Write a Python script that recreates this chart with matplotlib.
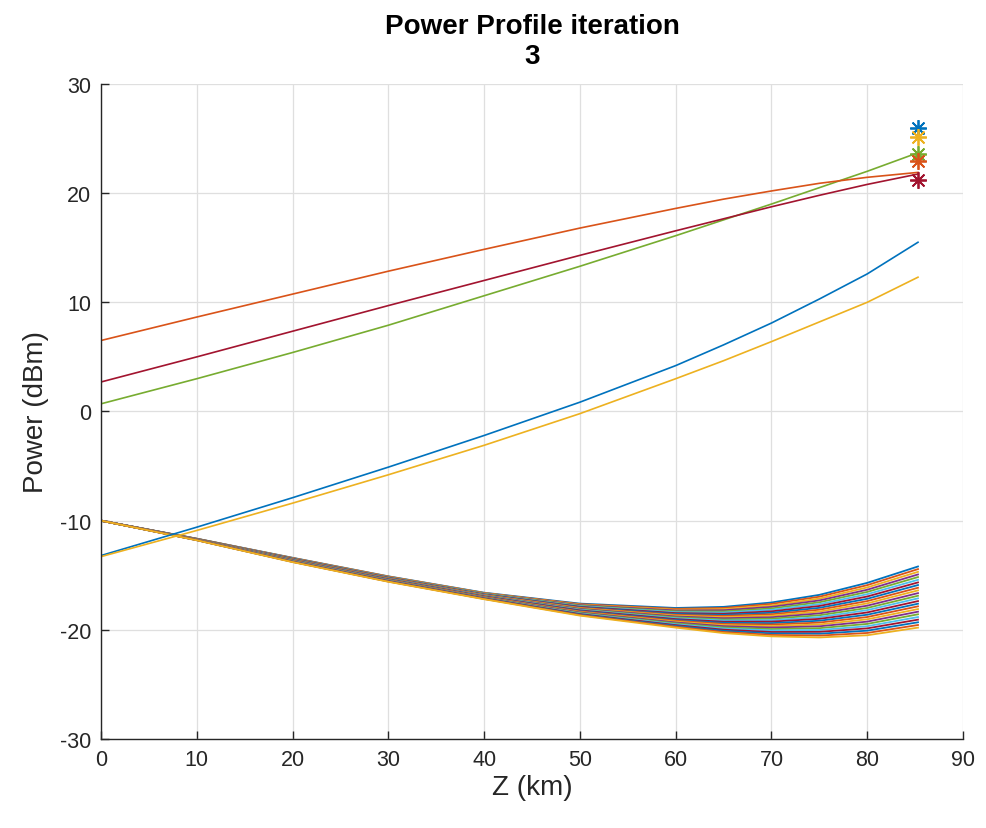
import matplotlib.pyplot as plt

plt.rcParams['font.family'] = ['Liberation Sans', 'DejaVu Sans']
plt.rcParams['axes.unicode_minus'] = False

z = [0, 10, 20, 30, 40, 50, 60, 65, 70, 75, 80, 85.3]

# pump power profiles (dBm)
pump_blue = [-13.2, -10.6, -7.9, -5.1, -2.2, 0.85, 4.2, 6.1, 8.1, 10.3, 12.6, 15.5]
pump_yellow = [-13.3, -10.9, -8.4, -5.8, -3.1, -0.2, 3.0, 4.65, 6.4, 8.2, 10.0, 12.3]
pump_orange = [6.5, 8.65, 10.75, 12.85, 14.85, 16.8, 18.6, 19.45, 20.2, 20.9, 21.45, 21.9]
pump_red = [2.7, 5.0, 7.35, 9.7, 12.0, 14.3, 16.55, 17.65, 18.75, 19.8, 20.8, 21.75]
pump_green = [0.7, 3.0, 5.4, 7.9, 10.6, 13.3, 16.1, 17.55, 19.0, 20.5, 22.0, 23.7]

# target pump powers at z = L
z_end = 85.3
target_blue = 26.0
target_yellow = 25.1
target_green = 23.6
target_orange = 22.9
target_red = 21.2

# signal channels (dBm), one row per channel, same z grid
signals = [
    [-10, -11.65, -13.40, -15.10, -16.60, -17.60, -18.00, -17.90, -17.50, -16.80, -15.70, -14.20],
    [-10, -11.66, -13.42, -15.12, -16.63, -17.65, -18.08, -18.00, -17.63, -16.97, -15.91, -14.44],
    [-10, -11.66, -13.43, -15.14, -16.65, -17.70, -18.16, -18.11, -17.77, -17.14, -16.12, -14.69],
    [-10, -11.67, -13.45, -15.17, -16.68, -17.74, -18.23, -18.21, -17.90, -17.31, -16.33, -14.93],
    [-10, -11.68, -13.47, -15.19, -16.70, -17.79, -18.31, -18.32, -18.04, -17.48, -16.53, -15.17],
    [-10, -11.68, -13.49, -15.21, -16.73, -17.84, -18.39, -18.42, -18.17, -17.65, -16.74, -15.42],
    [-10, -11.69, -13.50, -15.23, -16.76, -17.89, -18.47, -18.53, -18.31, -17.82, -16.95, -15.66],
    [-10, -11.70, -13.52, -15.25, -16.78, -17.93, -18.55, -18.63, -18.44, -17.99, -17.16, -15.90],
    [-10, -11.70, -13.54, -15.27, -16.81, -17.98, -18.63, -18.73, -18.58, -18.16, -17.37, -16.15],
    [-10, -11.71, -13.56, -15.30, -16.83, -18.03, -18.70, -18.84, -18.71, -18.33, -17.58, -16.39],
    [-10, -11.72, -13.57, -15.32, -16.86, -18.08, -18.78, -18.94, -18.85, -18.50, -17.79, -16.64],
    [-10, -11.72, -13.59, -15.34, -16.89, -18.13, -18.86, -19.05, -18.98, -18.67, -18.00, -16.88],
    [-10, -11.73, -13.61, -15.36, -16.91, -18.17, -18.94, -19.15, -19.12, -18.84, -18.20, -17.12],
    [-10, -11.73, -13.63, -15.38, -16.94, -18.22, -19.02, -19.26, -19.25, -19.00, -18.41, -17.37],
    [-10, -11.74, -13.64, -15.40, -16.97, -18.27, -19.10, -19.36, -19.39, -19.17, -18.62, -17.61],
    [-10, -11.75, -13.66, -15.43, -16.99, -18.32, -19.17, -19.46, -19.52, -19.34, -18.83, -17.85],
    [-10, -11.75, -13.68, -15.45, -17.02, -18.37, -19.25, -19.57, -19.66, -19.51, -19.04, -18.10],
    [-10, -11.76, -13.70, -15.47, -17.04, -18.41, -19.33, -19.67, -19.79, -19.68, -19.25, -18.34],
    [-10, -11.77, -13.71, -15.49, -17.07, -18.46, -19.41, -19.78, -19.93, -19.85, -19.46, -18.58],
    [-10, -11.77, -13.73, -15.51, -17.10, -18.51, -19.49, -19.88, -20.06, -20.02, -19.67, -18.83],
    [-10, -11.78, -13.75, -15.53, -17.12, -18.56, -19.57, -19.99, -20.20, -20.19, -19.87, -19.07],
    [-10, -11.79, -13.77, -15.56, -17.15, -18.60, -19.64, -20.09, -20.33, -20.36, -20.08, -19.31],
    [-10, -11.79, -13.78, -15.58, -17.17, -18.65, -19.72, -20.20, -20.47, -20.53, -20.29, -19.56],
    [-10, -11.80, -13.80, -15.60, -17.20, -18.70, -19.80, -20.30, -20.60, -20.70, -20.50, -19.80],
]

# MATLAB default colour order
mcolors = ['#0072BD', '#D95319', '#EDB120', '#7E2F8E', '#77AC30', '#4DBEEE', '#A2142F']
dark = '#262626'

fig = plt.figure(figsize=(9.87, 8.29), dpi=100)
ax = fig.add_axes([0.1023, 0.1074, 0.8734, 0.7901])

for i, row in enumerate(signals):
    ax.plot(z, row, color=mcolors[i % 7], lw=1.3)

ax.plot(z, pump_blue, color=mcolors[0], lw=1.2)
ax.plot(z, pump_yellow, color=mcolors[2], lw=1.2)
ax.plot(z, pump_green, color=mcolors[4], lw=1.2)
ax.plot(z, pump_red, color=mcolors[6], lw=1.2)
ax.plot(z, pump_orange, color=mcolors[1], lw=1.2)

star = (8, 2, 0)
ax.plot([z_end], [target_blue], ls='none', marker=star, ms=12, mew=1.3, color=mcolors[0])
ax.plot([z_end], [target_yellow], ls='none', marker=star, ms=12, mew=1.3, color=mcolors[2])
ax.plot([z_end], [target_green], ls='none', marker=star, ms=12, mew=1.3, color=mcolors[4])
ax.plot([z_end], [target_orange], ls='none', marker=star, ms=12, mew=1.3, color=mcolors[1])
ax.plot([z_end], [target_red], ls='none', marker=star, ms=12, mew=1.3, color=mcolors[6])

ax.set_xlim(0, 90)
ax.set_ylim(-30, 30)
ax.set_xticks(range(0, 91, 10))
ax.set_yticks(range(-30, 31, 10))
ax.grid(True, color='#dfdfdf', lw=0.9)
ax.set_axisbelow(True)
for side in ['top', 'right']:
    ax.spines[side].set_visible(False)
for side in ['left', 'bottom']:
    ax.spines[side].set_color(dark)
    ax.spines[side].set_linewidth(1.0)
ax.tick_params(direction='in', length=6, width=1.0, colors=dark, labelsize=15.5, pad=7)

ax.set_xlabel('Z (km)', fontsize=20, color=dark, labelpad=3)
ax.set_ylabel('Power (dBm)', fontsize=20, color=dark, labelpad=8)
ax.set_title('Power Profile iteration\n3', fontsize=20, fontweight='bold', color='black', pad=15)

fig.savefig('out.png', dpi=100)
